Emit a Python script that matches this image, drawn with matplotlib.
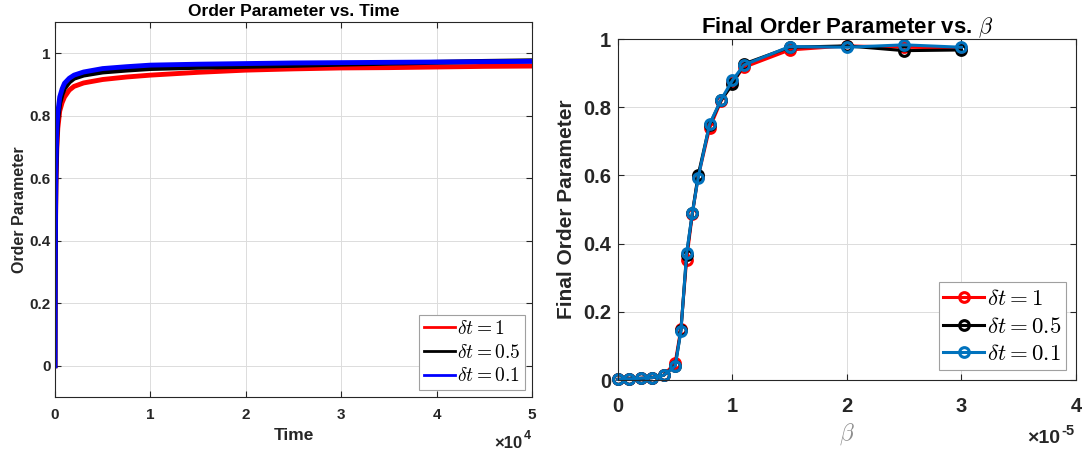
import matplotlib
matplotlib.use('Agg')
import matplotlib.pyplot as plt

plt.rcParams['font.family'] = ['Liberation Sans', 'DejaVu Sans']
plt.rcParams['mathtext.fontset'] = 'cm'

# left panel: order parameter vs time
time = [0, 20, 50, 100, 200, 300, 500, 750, 1000, 1500, 2000, 3000, 5000, 7500,
        10000, 15000, 20000, 25000, 30000, 35000, 40000, 45000, 50000]
op_dt1 = [0.0, 0.25, 0.40, 0.58, 0.70, 0.76, 0.815, 0.842, 0.86, 0.882, 0.894, 0.905,
          0.916, 0.924, 0.930, 0.939, 0.946, 0.950, 0.953, 0.954, 0.956, 0.958, 0.959]
op_dt05 = [0.0, 0.27, 0.43, 0.61, 0.73, 0.79, 0.84, 0.869, 0.888, 0.908, 0.92, 0.93,
           0.940, 0.946, 0.951, 0.955, 0.958, 0.961, 0.965, 0.968, 0.971, 0.974, 0.976]
op_dt01 = [0.0, 0.30, 0.46, 0.64, 0.76, 0.81, 0.86, 0.886, 0.904, 0.92, 0.93, 0.94,
           0.951, 0.957, 0.962, 0.965, 0.967, 0.969, 0.970, 0.971, 0.972, 0.973, 0.974]

# right panel: final order parameter vs beta (x 1e-5)
beta = [0, 0.1, 0.2, 0.3, 0.4, 0.5, 0.55, 0.6, 0.65, 0.7, 0.8, 0.9, 1.0, 1.1,
        1.5, 2.0, 2.5, 3.0]
fin_dt1 = [0.002, 0.003, 0.005, 0.007, 0.014, 0.051, 0.151, 0.353, 0.487, 0.595,
           0.738, 0.818, 0.874, 0.917, 0.968, 0.980, 0.976, 0.974]
fin_dt05 = [0.002, 0.003, 0.005, 0.007, 0.014, 0.042, 0.146, 0.368, 0.490, 0.600,
            0.748, 0.820, 0.867, 0.927, 0.976, 0.980, 0.966, 0.968]
fin_dt01 = [0.002, 0.003, 0.005, 0.007, 0.014, 0.041, 0.144, 0.372, 0.490, 0.592,
            0.750, 0.822, 0.879, 0.924, 0.978, 0.976, 0.983, 0.976]

labels = [r'$\delta t=1$', r'$\delta t=0.5$', r'$\delta t=0.1$']
TXT = '#262626'
GRID = '#dcdcdc'

fig = plt.figure(figsize=(10.86, 4.51), dpi=100)
ax1 = fig.add_axes([0.0506, 0.1197, 0.4393, 0.8315])
ax2 = fig.add_axes([0.569, 0.1574, 0.4218, 0.756])


def matlab_style(ax, fs, xpad, ypad):
    for s in ax.spines.values():
        s.set_color(TXT)
        s.set_linewidth(0.8)
    ax.tick_params(direction='in', top=True, right=True, length=4,
                   width=0.8, colors=TXT, labelsize=fs)
    ax.tick_params(axis='x', pad=xpad)
    ax.tick_params(axis='y', pad=ypad)
    for lab in ax.get_xticklabels() + ax.get_yticklabels():
        lab.set_fontweight('bold')
    ax.grid(True, color=GRID, linewidth=0.7)
    ax.set_axisbelow(True)


def exponent(ax, x, y, exp, fs):
    # MATLAB-style x10^n multiplier under the right end of the x axis
    ax.text(x, y, '×10', transform=ax.transAxes, ha='right', va='baseline',
            fontsize=fs, fontweight='bold', color=TXT)
    ax.annotate(exp, xy=(x, y), xycoords='axes fraction', xytext=(1, 6),
                textcoords='offset points', ha='left', va='baseline',
                fontsize=fs * 0.75, fontweight='bold', color=TXT)


# ---- left
ax1.plot(time, op_dt1, color='#ff0000', lw=3.5, label=labels[0])
ax1.plot(time, op_dt05, color='black', lw=3.5, label=labels[1])
ax1.plot(time, op_dt01, color='#0000ff', lw=3.5, label=labels[2])
ax1.set_xlim(0, 50000)
ax1.set_ylim(-0.1, 1.1)
ax1.set_xticks([0, 10000, 20000, 30000, 40000, 50000])
ax1.set_xticklabels(['0', '1', '2', '3', '4', '5'])
ax1.set_yticks([0, 0.2, 0.4, 0.6, 0.8, 1.0])
ax1.set_yticklabels(['0', '0.2', '0.4', '0.6', '0.8', '1'])
matlab_style(ax1, 11, 8, 3)
ax1.set_title('Order Parameter vs. Time', fontsize=12.5, fontweight='bold',
              color='black', pad=4)
ax1.set_xlabel('Time', fontsize=12.5, fontweight='bold', color=TXT, labelpad=4)
ax1.set_ylabel('Order Parameter', fontsize=11.5, fontweight='bold', color=TXT, labelpad=2)
leg1 = ax1.legend(loc='lower right', fontsize=14, handlelength=1.6,
                  handletextpad=0.1, borderpad=0.25, labelspacing=0.3,
                  borderaxespad=0.35, fancybox=False, framealpha=1)
leg1.get_frame().set_edgecolor('#a0a0a0')
leg1.get_frame().set_linewidth(0.8)
for h in leg1.get_lines():
    h.set_linewidth(2)
exponent(ax1, 0.98, -0.135, '4', 12)

# ---- right
mk = dict(marker='o', markersize=7, markerfacecolor='none',
          markeredgewidth=2.2, lw=2.2, clip_on=False)
ax2.plot(beta, fin_dt1, color='#ff0000', label=labels[0], **mk)
ax2.plot(beta, fin_dt05, color='black', label=labels[1], **mk)
ax2.plot(beta, fin_dt01, color='#0072bd', label=labels[2], **mk)
ax2.set_xlim(0, 4)
ax2.set_ylim(0, 1)
ax2.set_xticks([0, 1, 2, 3, 4])
ax2.set_xticklabels(['0', '1', '2', '3', '4'])
ax2.set_yticks([0, 0.2, 0.4, 0.6, 0.8, 1.0])
ax2.set_yticklabels(['0', '0.2', '0.4', '0.6', '0.8', '1'])
matlab_style(ax2, 14.5, 12, 5)
ax2.set_title(r'Final Order Parameter vs. $\beta$', fontsize=16,
              fontweight='bold', color='black', pad=4)
ax2.set_xlabel(r'$\beta$', fontsize=17, color='#8c8c8c', labelpad=4)
ax2.set_ylabel('Final Order Parameter', fontsize=15, fontweight='bold',
               color=TXT, labelpad=5)
leg2 = ax2.legend(loc='lower right', fontsize=16.5, handlelength=1.8,
                  handletextpad=0.1, borderpad=0.2, labelspacing=0.2,
                  borderaxespad=0.45, fancybox=False, framealpha=1)
leg2.get_frame().set_edgecolor('#a0a0a0')
leg2.get_frame().set_linewidth(0.8)
exponent(ax2, 0.965, -0.185, '-5', 14)

fig.savefig('out.png', dpi=100)
